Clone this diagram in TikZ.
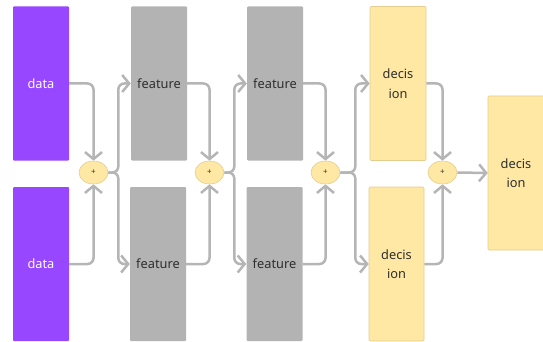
\documentclass[tikz,border=0pt]{standalone}
\usepackage{fontspec}
\setmainfont{Noto Sans}
\usetikzlibrary{arrows.meta,shapes.geometric}
\definecolor{purp}{HTML}{9747FF}
\definecolor{boxgray}{HTML}{B3B3B3}
\definecolor{linegray}{HTML}{B5B5B5}
\definecolor{yel}{HTML}{FFE8A3}
\definecolor{yelborder}{HTML}{E3CD8E}
\definecolor{txt}{HTML}{2E2E2E}
\begin{document}
\begin{tikzpicture}[x=1pt,y=-1pt,
  blk/.style={minimum width=56pt,minimum height=154pt,inner sep=0pt,rounded corners=1pt,font=\fontsize{12.8}{19.5}\selectfont,align=center},
  databox/.style={blk,fill=purp,text=white},
  featbox/.style={blk,fill=boxgray,text=txt},
  decbox/.style={blk,fill=yel,draw=yelborder,line width=0.6pt,text=txt},
  plus/.style={ellipse,minimum width=29pt,minimum height=23pt,inner sep=0pt,fill=yel,draw=yelborder,line width=0.6pt,font=\fontsize{8}{9}\selectfont,text=txt},
  conn/.style={draw=linegray,line width=2.5pt,rounded corners=6pt,-{Straight Barb[length=7pt,width=17pt,line width=2.5pt]}}
]
\useasboundingbox (0,0) rectangle (543,342);
\node[databox] (d1) at (41,83.5) {data};
\node[databox] (d2) at (41,264) {data};
\node[featbox] (f1) at (159,83.5) {feature};
\node[featbox] (f2) at (158,264) {feature};
\node[featbox] (g1) at (275,83.5) {feature};
\node[featbox] (g2) at (274.5,264) {feature};
\node[decbox] (c1) at (398,83.5) {decis\\ion};
\node[decbox,minimum width=55pt] (c2) at (396.5,264) {decis\\ion};
\node[decbox,minimum width=56pt] (fin) at (516,173) {decis\\ion};
\node[plus] (e1) at (93.5,172.5) {+};
\node[plus] (e2) at (209.5,172.5) {+};
\node[plus] (e3) at (325.5,172.5) {+};
\node[plus] (e4) at (442.5,172.5) {+};
\path[conn] (d1.east) -| (e1.north);
\path[conn] (d2.east) -| (e1.south);
\path[conn] (e1.east) -- ++(10,0) |- (f1.west);
\path[conn] (e1.east) -- ++(10,0) |- (f2.west);
\path[conn] (f1.east) -| (e2.north);
\path[conn] (f2.east) -| (e2.south);
\path[conn] (e2.east) -- ++(10,0) |- (g1.west);
\path[conn] (e2.east) -- ++(10,0) |- (g2.west);
\path[conn] (g1.east) -| (e3.north);
\path[conn] (g2.east) -| (e3.south);
\path[conn] (e3.east) -- ++(15,0) |- (c1.west);
\path[conn] (e3.east) -- ++(15,0) |- (c2.west);
\path[conn] (c1.east) -| (e4.north);
\path[conn] (c2.east) -| (e4.south);
\path[conn] (e4.east) -- (fin.west);
\end{tikzpicture}
\end{document}
